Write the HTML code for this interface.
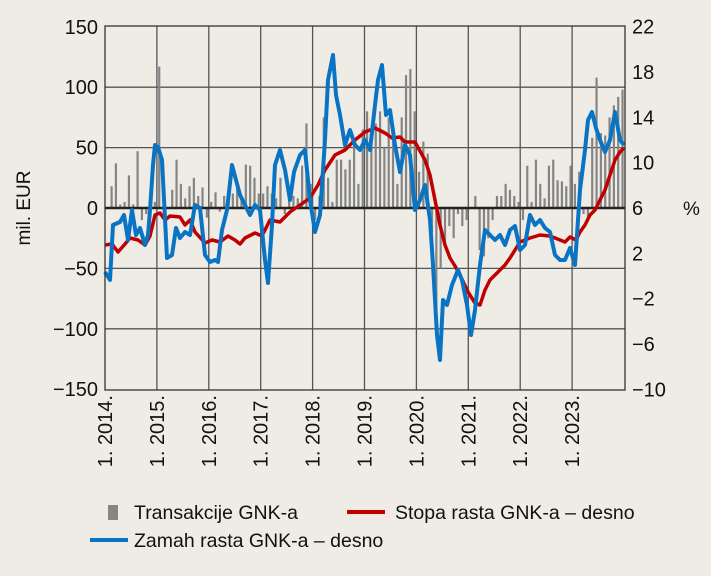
<!DOCTYPE html><html><head><meta charset="utf-8"><style>
html,body{margin:0;padding:0;background:#efece6;}
svg{display:block;font-family:"Liberation Sans",sans-serif;}
</style></head><body>
<svg id="s" width="711" height="576" viewBox="0 0 711 576" xmlns="http://www.w3.org/2000/svg">
<rect width="711" height="576" fill="#efece6"/>
<g id="grid" stroke="#555" stroke-width="1.3"></g>
<g id="bars" fill="#858585"></g>
<line x1="105" y1="208" x2="625" y2="208" stroke="#222" stroke-width="2.5"/>
<polyline id="red" fill="none" stroke="#c00000" stroke-width="3.5" stroke-linejoin="round"/>
<polyline id="blue" fill="none" stroke="#0a74c4" stroke-width="4" stroke-linejoin="round"/>
<rect x="105" y="26" width="520" height="364" fill="none" stroke="#333" stroke-width="1.3"/>
<g id="lab" font-size="20" fill="#111"></g>
<text transform="translate(30,208) rotate(-90)" text-anchor="middle" font-size="19" fill="#111">mil. EUR</text>
<text x="683" y="215" font-size="19" fill="#111">%</text>
<rect x="108" y="505" width="10" height="15" fill="#858585"/>
<text x="134" y="519" font-size="19.5" fill="#111">Transakcije GNK-a</text>
<line x1="347" y1="512" x2="385" y2="512" stroke="#c00000" stroke-width="4"/>
<text x="395" y="519" font-size="19.5" fill="#111">Stopa rasta GNK-a – desno</text>
<line x1="90" y1="540" x2="128" y2="540" stroke="#0a74c4" stroke-width="4"/>
<text x="134" y="547" font-size="19.5" fill="#111">Zamah rasta GNK-a – desno</text>
</svg>
<script>
var NS="http://www.w3.org/2000/svg";
function el(p,t,a,txt){var e=document.createElementNS(NS,t);for(var k in a)e.setAttribute(k,a[k]);if(txt!=null)e.textContent=txt;document.getElementById(p).appendChild(e);}
var lv=[150,100,50,0,-50,-100,-150],rv=[22,18,14,10,6,2,-2,-6,-10];
lv.forEach(function(v,i){var y=208-v*1.208;if(v!=0&&v!=-150&&v!=150)el("grid","line",{x1:105,x2:625,y1:y,y2:y});
el("lab","text",{x:98,y:y+7,"text-anchor":"end"},v<0?"−"+(-v):v);});
rv.forEach(function(v){var y=208-(v-6)*11.33;el("lab","text",{x:632,y:y+7},v<0?"−"+(-v):v);});
for(var i=0;i<10;i++){var x=105+i*51.9;if(i>0)el("grid","line",{x1:x,x2:x,y1:26,y2:390});
el("lab","text",{transform:"translate("+(x+7)+",395) rotate(-90)","text-anchor":"end"},"1. "+(2014+i)+".");}
var b=[0,18,37,3,5,27,3,47,-10,-5,12,5, 117,2,0,15,40,20,8,18,25,10,17,-8, 5,13,-3,10,5,12,20,8,36,35,25,12, 12,18,12,8,25,-5,7,10,8,35,70,20, -10,10,75,25,5,40,40,32,40,55,20,65, 80,60,70,80,50,75,65,20,75,110,115,80, 30,55,45,-20,-90,-50,-30,-15,-25,-5,-15,-10, 0,10,-35,-40,-25,-10,10,10,20,15,10,5, -10,35,5,40,20,8,35,40,23,22,18,35, 20,30,-5,-8,58,108,62,60,75,85,92,98];
b.forEach(function(v,i){var x=105+(i+0.5)*4.33;var y=208-v*1.208;el("bars","rect",{x:x-1,width:2.2,y:Math.min(y,208),height:Math.abs(v*1.208)});});
var red="105,245 112,244 118,252 125,244 130,238 138,240 145,245 150,236 155,215 160,213 165,220 170,216 180,217 185,225 190,220 195,232 205,243 212,240 220,242 228,236 235,240 240,244 245,238 255,233 262,236 270,220 280,222 290,212 300,205 310,198 318,185 325,170 335,155 345,150 355,140 365,132 375,128 385,133 392,138 400,137 405,142 415,142 425,160 430,175 435,200 440,225 445,245 450,258 455,266 460,275 468,292 475,303 480,305 485,290 490,280 495,275 505,265 510,258 515,250 520,242 530,238 540,235 550,236 560,240 565,242 570,237 576,240 580,232 585,225 590,215 595,210 600,200 605,190 610,175 615,160 620,152 624,148";
var blue="105,272 110,280 113,225 120,222 124,215 128,240 132,210 136,235 140,228 145,245 148,235 150,210 153,165 155,145 158,147 162,160 167,258 172,255 176,228 180,238 185,232 190,235 195,205 200,208 205,255 210,262 215,260 218,262 222,230 227,210 232,165 236,180 240,195 245,205 250,215 255,205 260,210 265,260 268,283 272,225 275,165 280,150 285,170 290,200 294,172 300,155 305,150 310,200 315,232 320,215 325,140 328,80 333,55 336,95 340,115 345,145 350,130 355,145 360,150 365,140 370,150 375,105 378,80 382,65 386,115 390,110 395,145 400,172 405,145 410,155 415,210 420,200 425,185 430,220 433,265 437,335 440,360 443,300 447,305 452,285 458,270 462,280 467,305 471,335 475,310 480,265 485,230 490,235 495,240 500,235 505,245 510,230 515,226 520,250 525,245 530,215 535,225 540,220 545,228 550,232 555,255 560,260 565,260 570,248 575,265 580,190 585,150 588,120 592,112 596,128 600,140 605,152 610,140 615,112 620,140 624,145";
document.getElementById("red").setAttribute("points",red);
document.getElementById("blue").setAttribute("points",blue);
</script>
</body></html>
